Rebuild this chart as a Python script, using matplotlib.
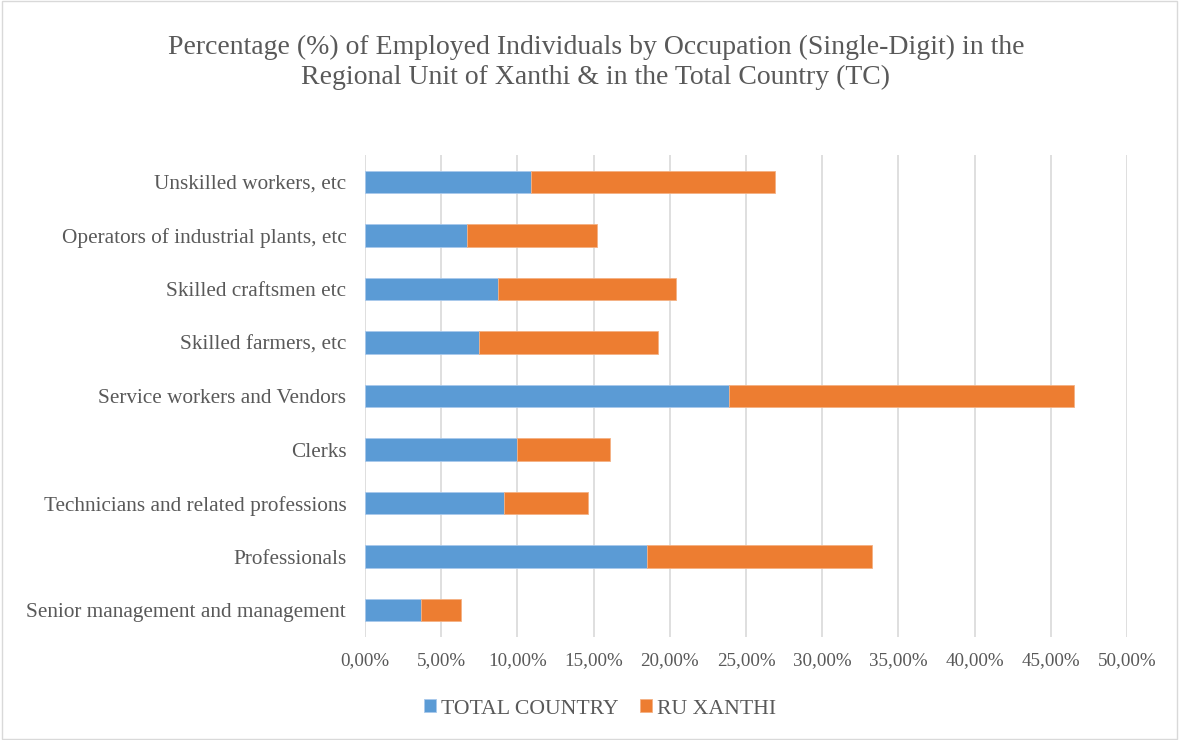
import matplotlib.pyplot as plt
from matplotlib.ticker import FuncFormatter
from matplotlib.patches import Rectangle

categories = ['Senior management and management', 'Professionals',
              'Technicians and related professions', 'Clerks',
              'Service workers and Vendors', 'Skilled farmers, etc',
              'Skilled craftsmen etc', 'Operators of industrial plants, etc',
              'Unskilled workers, etc']
total_country = [3.7, 18.5, 9.1, 10.0, 23.9, 7.5, 8.7, 6.7, 10.9]
ru_xanthi = [2.6, 14.8, 5.5, 6.1, 22.6, 11.7, 11.7, 8.5, 16.0]

plt.rcParams['font.family'] = ['Liberation Serif', 'DejaVu Serif']

fig = plt.figure(figsize=(11.79, 7.4), dpi=100)
ax = fig.add_axes([365 / 1179, 1 - 637 / 740, (1127 - 365) / 1179, (637 - 155) / 740])

blue = '#5b9bd5'
orange = '#ed7d31'
y = range(len(categories))
ax.barh(y, total_country, height=0.42, color=blue, edgecolor='#a9c9ec', linewidth=0.6,
        label='TOTAL COUNTRY', zorder=3)
ax.barh(y, ru_xanthi, left=total_country, height=0.42, color=orange, edgecolor='#f4b183',
        linewidth=0.6, label='RU XANTHI', zorder=3)

ax.set_xlim(0, 50)
ax.set_ylim(-0.5, 8.5)
ax.set_xticks(range(0, 51, 5))
ax.xaxis.set_major_formatter(FuncFormatter(lambda v, p: ('%.2f%%' % v).replace('.', ',')))
ax.set_yticks(list(y))
ax.set_yticklabels(categories)
ax.grid(axis='x', color='#d9d9d9', linewidth=1.2, zorder=0)
for s in ax.spines.values():
    s.set_visible(False)
ax.tick_params(axis='both', length=0, colors='#595959')
ax.tick_params(axis='y', labelsize=15.3, pad=13.5)
ax.tick_params(axis='x', labelsize=13.7, pad=11)

fig.text(0.5055, 0.953, 'Percentage (%) of Employed Individuals by Occupation (Single-Digit) in the\n'
         'Regional Unit of Xanthi & in the Total Country (TC)',
         ha='center', va='top', fontsize=20, color='#595959', linespacing=1.26)

leg = fig.legend(loc='center', bbox_to_anchor=(0.509, 0.042), ncol=2, frameon=False,
                 fontsize=15.7, handlelength=0.55, handleheight=0.55, columnspacing=0.95,
                 handletextpad=0.25)
for t in leg.get_texts():
    t.set_color('#595959')

fig.patches.append(Rectangle((0.002, 0.002), 0.996, 0.996, transform=fig.transFigure,
                             fill=False, edgecolor='#d9d9d9', linewidth=1))

fig.savefig('out.png', dpi=100)
